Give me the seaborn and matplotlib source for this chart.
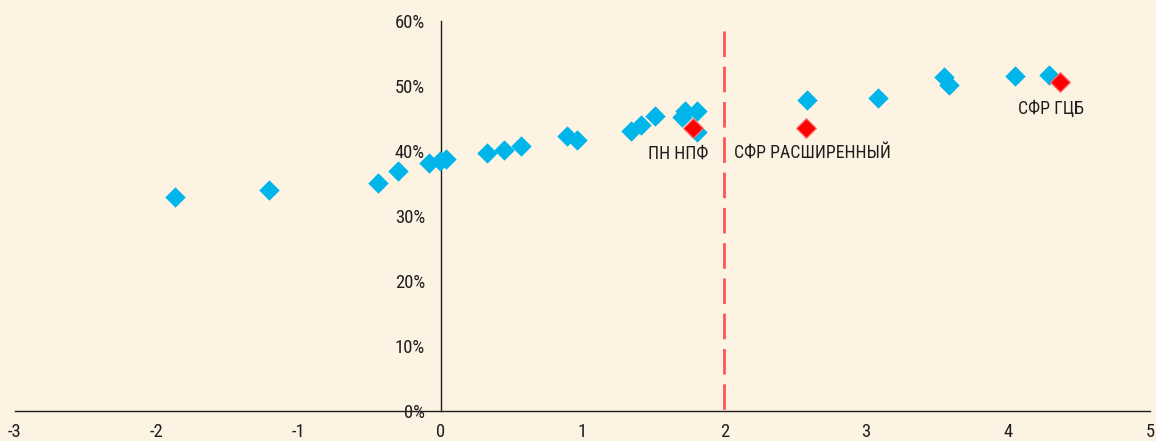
import matplotlib
matplotlib.use("Agg")
import matplotlib.pyplot as plt
from matplotlib.ticker import PercentFormatter, MultipleLocator, FuncFormatter
from matplotlib import font_manager
import seaborn as sns
import pandas as pd

# Peer funds: x-axis score vs. share (fraction)
peer_x = [-1.87, -1.21, -0.44, -0.30, -0.08, -0.005, 0.04, 0.33, 0.45, 0.57,
          0.89, 0.96, 1.345, 1.41, 1.51, 1.70, 1.72, 1.81, 1.81, 2.58,
          3.08, 3.55, 3.58, 4.05, 4.285]
peer_y = [0.329, 0.340, 0.351, 0.369, 0.382, 0.385, 0.387, 0.396, 0.402, 0.407,
          0.423, 0.417, 0.431, 0.440, 0.453, 0.452, 0.461, 0.461, 0.429, 0.478,
          0.482, 0.514, 0.502, 0.516, 0.517]

# Highlighted funds
focus_x = [1.777, 2.575, 4.367]
focus_y = [0.435, 0.436, 0.506]
focus_names = ["ПН НПФ", "СФР РАСШИРЕННЫЙ", "СФР ГЦБ"]

threshold_x = 2

x_ticks = [-3, -2, -1, 0, 1, 2, 3, 4, 5]

BG = "#FCF3E3"
BLUE = "#00B5EA"
RED = "#FF0000"
INK = "#1E1E1E"

sns.set_style("white", {"axes.facecolor": BG, "figure.facecolor": BG})

# prefer a condensed face when one is available
installed = {f.name for f in font_manager.fontManager.ttflist}
families = [f for f in ["Roboto Condensed", "Liberation Sans Narrow", "Arial Narrow",
                        "Roboto", "DejaVu Sans"] if f in installed]
plt.rcParams["font.family"] = families + ["DejaVu Sans"]
condensed = families[0] in ("Roboto Condensed", "Liberation Sans Narrow", "Arial Narrow")
FS = 12.8 if condensed else 12.0
TICK_FS = 13.4 if condensed else 12.0

peers = pd.DataFrame({"x": peer_x, "y": peer_y})
focus = pd.DataFrame({"x": focus_x, "y": focus_y, "name": focus_names})

fig = plt.figure(figsize=(11.56, 4.41), dpi=100)
ax = fig.add_axes([15 / 1156, 30.3 / 441, 1135 / 1156, 389.7 / 441])
ax.set_facecolor(BG)

# dashed threshold line, dash pattern starting from the top
ax.plot([threshold_x, threshold_x], [0.585, 0.0], color="#FF5555", lw=2.0,
        dashes=(9.2, 3.5), zorder=1, dash_capstyle="butt")

sns.scatterplot(data=peers, x="x", y="y", marker="D", s=108, color=BLUE,
                linewidth=0, ax=ax, zorder=3)
sns.scatterplot(data=focus, x="x", y="y", marker="D", s=100, color=RED,
                edgecolor="#FF6A6A", linewidth=0.9, ax=ax, zorder=4)

label_offsets = [(-10.2, -22.1), (5.0, -22.0), (-6.7, -23.0)]
for (xv, yv, name), (dx, dy) in zip(zip(focus_x, focus_y, focus_names), label_offsets):
    ax.annotate(name, (xv, yv), xytext=(dx, dy), textcoords="offset points",
                ha="center", va="baseline", fontsize=FS, color=INK)

ax.set_xlim(-3, 5)
ax.set_ylim(0, 0.6)
ax.set_xticks(x_ticks)
ax.xaxis.set_major_formatter(FuncFormatter(lambda v, p: f"{v:g}"))
ax.yaxis.set_major_locator(MultipleLocator(0.1))
ax.yaxis.set_major_formatter(PercentFormatter(1.0, decimals=0))

ax.spines["left"].set_position(("data", 0))
ax.spines["top"].set_visible(False)
ax.spines["right"].set_visible(False)
for side in ("left", "bottom"):
    ax.spines[side].set_color(INK)
    ax.spines[side].set_linewidth(1.0)
    ax.spines[side].set_zorder(2)

ax.tick_params(axis="both", direction="out", length=4.2, width=1.0,
               colors=INK, labelsize=TICK_FS)
ax.tick_params(axis="x", pad=4.5)
ax.tick_params(axis="y", pad=7)
ax.set_xlabel("")
ax.set_ylabel("")
ax.grid(False)

fig.savefig("out.png", dpi=100, facecolor=BG)
